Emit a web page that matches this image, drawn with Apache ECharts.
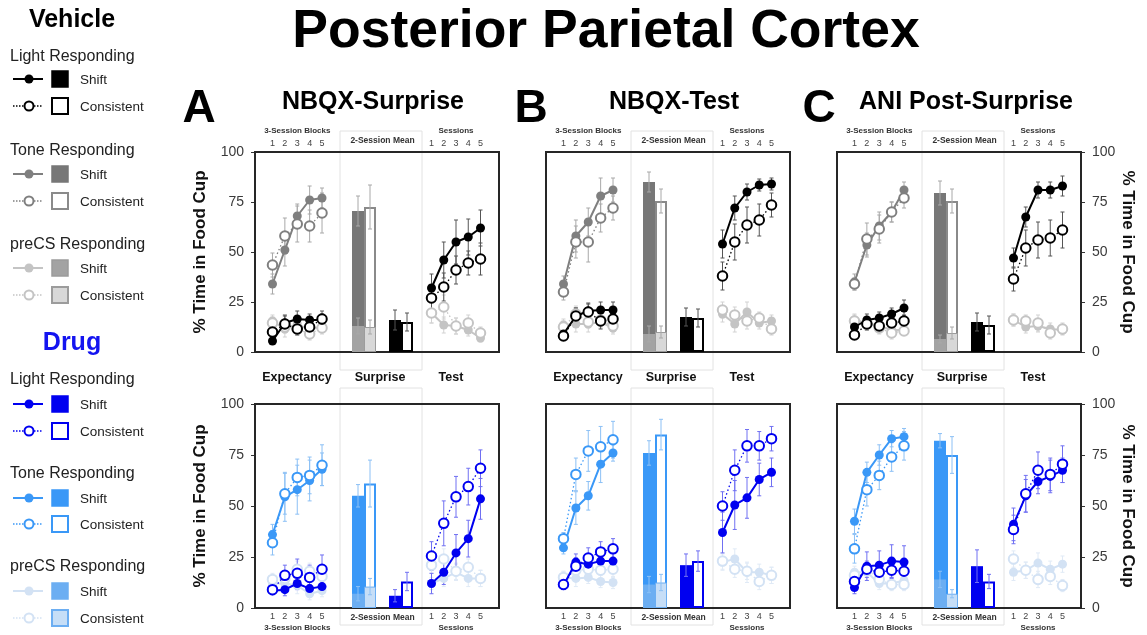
<!DOCTYPE html>
<html><head><meta charset="utf-8">
<script src="https://cdn.jsdelivr.net/npm/echarts@6/dist/echarts.min.js"></script>
<style>html,body{margin:0;padding:0;background:#fff}#c{width:1147px;height:635px}</style>
</head><body><div id="c"></div>
<script>
const FONT = '"Liberation Sans", Arial, Helvetica, sans-serif';
const blockTicks = [1, 2, 3, 4, 5];
const yTickStep = 25;
const barCats = ['Tone', 'Light'];

// ===== Vehicle, A: NBQX-Surprise =====
const vehA_exp_mean = {toneShift:[34,51,68,76,77], toneCons:[43.5,58,64,63,69.5], lightShift:[5.5,14.5,16.5,16,16], lightCons:[10,14,11.5,12.5,16.5], precsShift:[15.5,11.5,14,11,13], precsCons:[14.5,12.5,11.5,9,12]};
const vehA_exp_sem  = {toneShift:[5,8,6,7,5], toneCons:[6,9,9,8,10], lightShift:[1.5,4,4,3,3], lightCons:[2.5,4,3,3,4], precsShift:[3,4,3,3,3], precsCons:[3,3,3,3,3]};
const vehA_bar_mean = {toneShift:70.5, toneCons:72.5, precsShift:13, precsCons:12.5, lightShift:16, lightCons:15};
const vehA_bar_sem  = {toneShift:7.5, toneCons:11, precsShift:4, precsCons:3.5, lightShift:5, lightCons:4.5};
const vehA_test_mean = {lightShift:[32,46,55,57.5,62], lightCons:[27,32.5,41,44.5,46.5], precsShift:[19.5,13.5,13,11,7], precsCons:[19.5,22.5,13,14.5,9.5]};
const vehA_test_sem  = {lightShift:[7,9,11,9,9], lightCons:[6,7,7,6,8], precsShift:[5,4,4,3,2], precsCons:[5,6,4,4,3]};

// ===== Vehicle, B: NBQX-Test =====
const vehB_exp_mean = {toneShift:[34,58,65,78,81], toneCons:[30,55,55,67,72], lightShift:[9,18,20.5,21,21], lightCons:[8,18,20,15.5,16.5], precsShift:[13.5,14,14,15,12], precsCons:[12.5,19,15,16,13]};
const vehB_exp_sem  = {toneShift:[4,8,7,9,6], toneCons:[4,8,10,7,6], lightShift:[2,4,4,4,4], lightCons:[2,4,4,4,4], precsShift:[3,4,4,3,3], precsCons:[3,4,3,3,3]};
const vehB_bar_mean = {toneShift:85, toneCons:75.5, precsShift:9, precsCons:10, lightShift:17.5, lightCons:17};
const vehB_bar_sem  = {toneShift:5, toneCons:6, precsShift:4, precsCons:3, lightShift:4.5, lightCons:4.5};
const vehB_test_mean = {lightShift:[54,72,80,83.5,84], lightCons:[38,55,63.5,66,73.5], precsShift:[19,14,20,14.5,15.5], precsCons:[21,18.5,15.5,17,11.5]};
const vehB_test_sem  = {lightShift:[7,6,4,3,3], lightCons:[7,9,9,8,6], precsShift:[4,4,5,3,3], precsCons:[4,4,4,3,3]};

// ===== Vehicle, C: ANI Post-Surprise =====
const vehC_exp_mean = {toneShift:[35,53.5,63,70,81], toneCons:[34,56.5,61.5,70,77], lightShift:[12.5,16,17,19,22], lightCons:[8.5,14,13,14.5,15.5], precsShift:[16,14.5,13,11,11], precsCons:[15.5,14,12,9.5,10.5]};
const vehC_exp_sem  = {toneShift:[4,6,7,5,4], toneCons:[3,8,7,5,5], lightShift:[3,3,3,3,4], lightCons:[2,3,3,3,3], precsShift:[3,3,3,3,2], precsCons:[3,3,3,3,2]};
const vehC_bar_mean = {toneShift:79.5, toneCons:75.5, precsShift:6.5, precsCons:9.5, lightShift:15, lightCons:13.5};
const vehC_bar_sem  = {toneShift:6, toneCons:6, precsShift:2, precsCons:3, lightShift:4.5, lightCons:4.5};
const vehC_test_mean = {lightShift:[47,67.5,81,81,83], lightCons:[36.5,52,56,57,61], precsShift:[16,12.5,13,11.5,11], precsCons:[16,15.5,14.5,9.5,11.5]};
const vehC_test_sem  = {lightShift:[5,5,4,4,5], lightCons:[6,9,9,9,9], precsShift:[3,3,3,3,2], precsCons:[3,3,4,3,3]};

// ===== Drug, A =====
const drugA_exp_mean = {toneShift:[36,54.5,58,62.5,68], toneCons:[32,56,64,65,70], lightShift:[8.5,9,12,9.5,10.5], lightCons:[9,16,17,15,19], precsShift:[12,12,11,7,8.5], precsCons:[14,14.5,19,18,15.5]};
const drugA_exp_sem  = {toneShift:[5,12,12,10,8], toneCons:[6,10,9,9,10], lightShift:[2,3,3,2,3], lightCons:[2,5,7,6,7], precsShift:[3,4,4,3,3], precsCons:[3,4,4,4,4]};
const drugA_bar_mean = {toneShift:55, toneCons:61, precsShift:7, precsCons:10.5, lightShift:6, lightCons:13};
const drugA_bar_sem  = {toneShift:5.5, toneCons:11.5, precsShift:3.5, precsCons:4, lightShift:3, lightCons:4.5};
const drugA_test_mean = {lightShift:[12,17.5,27,34,53.5], lightCons:[25.5,41.5,54.5,59.5,68.5], precsShift:[12,14.5,17.5,14.5,14.5], precsCons:[21,24,18,20,14.5]};
const drugA_test_sem  = {lightShift:[5,6,9,9,10], lightCons:[7,11,10,9,9], precsShift:[3,4,4,4,4], precsCons:[4,5,4,4,4]};

// ===== Drug, B =====
const drugB_exp_mean = {toneShift:[29.5,49,55,70.5,76], toneCons:[34,65.5,77,79,82.5], lightShift:[11,22.5,21.5,23,23], lightCons:[11.5,20.5,24.5,27.5,29], precsShift:[15,14.5,15,13,12.5], precsCons:[15,18.5,19,18.5,19]};
const drugB_exp_sem  = {toneShift:[3,8,7,9,4], toneCons:[3,8,10,10,9], lightShift:[2,4,4,4,4], lightCons:[2,4,5,5,5], precsShift:[3,4,3,3,3], precsCons:[3,4,4,4,4]};
const drugB_bar_mean = {toneShift:76, toneCons:85, precsShift:11.5, precsCons:12.5, lightShift:21, lightCons:23};
const drugB_bar_sem  = {toneShift:6, toneCons:7.5, precsShift:4, precsCons:4, lightShift:5.5, lightCons:5};
const drugB_test_mean = {lightShift:[37,50.5,54,63,66.5], lightCons:[50,67.5,79.5,79.5,83], precsShift:[22.5,24,17.5,17.5,16], precsCons:[23,19,18,13,16]};
const drugB_test_sem  = {lightShift:[10,12,10,8,7], lightCons:[7,10,8,7,6], precsShift:[4,5,5,4,4], precsCons:[4,4,4,4,4]};

// ===== Drug, C =====
const drugC_exp_mean = {toneShift:[42.5,66.5,75,83,84], toneCons:[29,58,65,74,79.5], lightShift:[10,20.5,21,23,22.5], lightCons:[13,19,17.5,18.5,18], precsShift:[17.5,17.5,12,12,13.5], precsCons:[16,19,14,11.5,11.5]};
const drugC_exp_sem  = {toneShift:[6,5,5,4,4], toneCons:[7,8,7,7,7], lightShift:[3,7,7,8,8], lightCons:[3,4,4,4,4], precsShift:[3,4,3,3,3], precsCons:[3,3,3,3,3]};
const drugC_bar_mean = {toneShift:82, toneCons:75, precsShift:14, precsCons:7, lightShift:20.5, lightCons:13};
const drugC_bar_sem  = {toneShift:3.5, toneCons:9, precsShift:4, precsCons:2, lightShift:8, lightCons:3.5};
const drugC_test_mean = {lightShift:[41,55,62,64.5,67.5], lightCons:[38.5,56,67.5,65.5,70.5], precsShift:[17.5,18.5,22,19,21.5], precsCons:[24,18.5,14,15.5,11]};
const drugC_test_sem  = {lightShift:[8,8,6,8,6], lightCons:[7,9,9,8,9], precsShift:[4,4,5,4,4], precsCons:[4,4,4,4,3]};

const PAL = {
  veh: {light:'#000000', lightErr:'#555555', tone:'#7f7f7f', toneErr:'#a8a8a8', precs:'#c4c4c4', precsErr:'#d2d2d2',
        toneBar:'#777777', toneConsBorder:'#8a8a8a', precsBarShift:'#a3a3a3', precsBarCons:'#d8d8d8', precsBarBorder:'#9c9c9c'},
  drug: {light:'#0000f0', lightErr:'#7070f2', tone:'#3a98f7', toneErr:'#8cc0f5', precs:'#d3e2f4', precsErr:'#e0eaf6',
        toneBar:'#3a98f7', toneConsBorder:'#3a98f7', precsBarShift:'#6caef2', precsBarCons:'#c6def7', precsBarBorder:'#6caef2'}
};

const grids = [], xAxes = [], yAxes = [], series = [], graphics = [];
const addGrid = g => (grids.push(g), grids.length - 1);
const addX = a => (xAxes.push(a), xAxes.length - 1);
const addY = a => (yAxes.push(a), yAxes.length - 1);

function lineS(xi, yi, xs, vals, color, filled, z) {
  return {type:'line', xAxisIndex:xi, yAxisIndex:yi, data: xs.map((x, i) => [x, vals[i]]),
    symbol:'circle', symbolSize: filled ? 9 : 9.5, showSymbol:true, z,
    lineStyle:{color, width: filled ? 2 : 1.3, type: filled ? 'solid' : [1.5, 2.5]},
    itemStyle:{color: filled ? color : '#ffffff', borderColor: color, borderWidth: filled ? 0 : 2}};
}
function errS(xi, yi, xs, vals, errs, color, offset, cap) {
  return {type:'custom', xAxisIndex:xi, yAxisIndex:yi, z:1,
    data: xs.map((x, i) => [x, vals[i], errs[i]]), encode:{x:0, y:1},
    renderItem: (p, api) => {
      const x = api.value(0), v = api.value(1), e = api.value(2);
      const a = api.coord([x, v + e]), b = api.coord([x, v - e]);
      const px = a[0] + offset;
      const st = {stroke: color, lineWidth: 1};
      return {type:'group', children:[
        {type:'line', shape:{x1:px, y1:a[1], x2:px, y2:b[1]}, style:st},
        {type:'line', shape:{x1:px - cap, y1:a[1], x2:px + cap, y2:a[1]}, style:st},
        {type:'line', shape:{x1:px - cap, y1:b[1], x2:px + cap, y2:b[1]}, style:st}
      ]};
    }};
}

const W = 244;
function buildPanel(pd) {
  const {F, top, h, row, ylab, pal, exp, expE, bar, barE, test, testE} = pd;
  const P = PAL[pal];
  const axPos = row === 'top' ? 'top' : 'bottom';
  // middle "2-Session Mean" box
  graphics.push({type:'rect', z:0, shape:{x:F + 85, y: row === 'top' ? 131 : 388, width:82, height: row === 'top' ? 239 : 237},
    style:{fill:'none', stroke:'#e2e2e2', lineWidth:1}});
  // frame grid with y axis
  const gf = addGrid({left:F, top, width:W, height:h, show:true, borderColor:'#262626', borderWidth:2, backgroundColor:'transparent', z:1});
  addX({gridIndex:gf, type:'value', min:0, max:1, show:false});
  addY({gridIndex:gf, type:'value', min:0, max:100, interval:yTickStep, show: !!ylab, position: ylab === 'right' ? 'right' : 'left',
    axisLine:{show:false, onZero:false}, axisTick:{show:true, length:4, lineStyle:{color:'#333'}}, splitLine:{show:false},
    axisLabel:{fontSize:14, color:'#3a3a3a', margin:11, fontFamily:FONT},
    name:'% Time in Food Cup', nameLocation:'middle', nameGap: ylab === 'right' ? 38 : 46, nameRotate: ylab === 'right' ? -90 : 90,
    nameTextStyle:{fontSize:17, fontWeight:'bold', color:'#111', fontFamily:FONT}});
  // shared session-axis style
  const sessAxis = (gi, min, max, name) => ({gridIndex:gi, type:'value', min, max, interval:1, position:axPos,
    axisLine:{show:false, onZero:false}, axisTick:{show:false}, splitLine:{show:false},
    axisLabel:{fontSize:9, color:'#444', margin: row === 'top' ? 4 : 4.5, fontFamily:FONT, formatter: v => (v >= 1 && v <= 5) ? String(v) : ''},
    name, nameLocation:'middle', nameGap: row === 'top' ? 17 : 16,
    nameTextStyle:{fontSize:8, fontWeight:'bold', color:'#333', fontFamily:FONT}});
  // Expectancy section
  const gl = addGrid({left:F + 5.1, top, width:74.3, height:h});
  const xl = addX(sessAxis(gl, 0, 6, '3-Session Blocks'));
  const yl = addY({gridIndex:gl, type:'value', min:0, max:100, show:false});
  const order = [['precs', 'Shift', true, 2], ['precs', 'Cons', false, 2], ['tone', 'Shift', true, 3], ['tone', 'Cons', false, 3], ['light', 'Shift', true, 4], ['light', 'Cons', false, 4]];
  order.forEach(([k, s]) => {
    series.push(errS(xl, yl, blockTicks, exp[k + s], expE[k + s], P[k + 'Err'], 0, 2));
  });
  order.forEach(([k, s, filled, z]) => {
    series.push(lineS(xl, yl, blockTicks, exp[k + s], P[k], filled, z));
  });
  // Surprise section (bars)
  const gm = addGrid({left:F + 90.5, top, width:74, height:h});
  const xm = addX({gridIndex:gm, type:'category', data:barCats, position:axPos,
    axisLine:{show:false, onZero:false}, axisTick:{show:false}, axisLabel:{show:false},
    name:'2-Session Mean', nameLocation:'middle', nameGap: row === 'top' ? 7 : 5,
    nameTextStyle:{fontSize:8.5, fontWeight:'bold', color:'#333', fontFamily:FONT}});
  const xm2 = addX({gridIndex:gm, type:'category', data:barCats, show:false});
  const ym = addY({gridIndex:gm, type:'value', min:0, max:100, show:false});
  series.push({type:'bar', xAxisIndex:xm, yAxisIndex:ym, barWidth:12, barGap:'0%', z:2,
    data:[{value:bar.toneShift, itemStyle:{color:P.toneBar}}, {value:bar.lightShift, itemStyle:{color:P.light}}]});
  series.push({type:'bar', xAxisIndex:xm, yAxisIndex:ym, barWidth:12, barGap:'0%', z:2,
    data:[{value:bar.toneCons, itemStyle:{color:'#ffffff', borderColor:P.toneConsBorder, borderWidth:2}},
          {value:bar.lightCons, itemStyle:{color:'#ffffff', borderColor:P.light, borderWidth:2}}]});
  series.push({type:'bar', xAxisIndex:xm2, yAxisIndex:ym, barWidth:12, barGap:'0%', z:3,
    data:[{value:bar.precsShift, itemStyle:{color:P.precsBarShift}}, '-']});
  series.push({type:'bar', xAxisIndex:xm2, yAxisIndex:ym, barWidth:12, barGap:'0%', z:3,
    data:[{value:bar.precsCons, itemStyle:{color:P.precsBarCons, borderColor:P.precsBarBorder, borderWidth:1}}, '-']});
  const barErr = [
    [xm, 0, 'toneShift', P.toneErr, -6], [xm, 0, 'toneCons', P.toneErr, 6],
    [xm, 1, 'lightShift', P.lightErr, -6], [xm, 1, 'lightCons', P.lightErr, 6],
    [xm2, 0, 'precsShift', P.toneErr, -6], [xm2, 0, 'precsCons', P.toneErr, 6]];
  barErr.forEach(([ax, ci, k, col, off]) => {
    const s = errS(ax, ym, [ci], [bar[k]], [barE[k]], col, off, 2);
    s.z = 4;
    series.push(s);
  });
  // Test section
  const gt = addGrid({left:F + 164.25, top, width:73.5, height:h});
  const xt = addX(sessAxis(gt, 0, 6, 'Sessions'));
  const yt = addY({gridIndex:gt, type:'value', min:0, max:100, show:false});
  const tOrder = [['precs', 'Shift', true, 2], ['precs', 'Cons', false, 2], ['light', 'Shift', true, 4], ['light', 'Cons', false, 4]];
  tOrder.forEach(([k, s]) => series.push(errS(xt, yt, blockTicks, test[k + s], testE[k + s], P[k + 'Err'], 0, 2)));
  tOrder.forEach(([k, s, filled, z]) => series.push(lineS(xt, yt, blockTicks, test[k + s], P[k], filled, z)));
  // section labels between rows
  if (row === 'top') {
    [['Expectancy', F + 42], ['Surprise', F + 125], ['Test', F + 196]].forEach(([t, x]) =>
      graphics.push({type:'text', x, y:378, z:5, style:{text:t, font:'bold 12.5px ' + FONT, fill:'#111', align:'center', verticalAlign:'middle'}}));
  }
}

const panelDefs = [
  {F:255, top:152, h:200, row:'top', ylab:'left', pal:'veh', exp:vehA_exp_mean, expE:vehA_exp_sem, bar:vehA_bar_mean, barE:vehA_bar_sem, test:vehA_test_mean, testE:vehA_test_sem},
  {F:546, top:152, h:200, row:'top', ylab:null, pal:'veh', exp:vehB_exp_mean, expE:vehB_exp_sem, bar:vehB_bar_mean, barE:vehB_bar_sem, test:vehB_test_mean, testE:vehB_test_sem},
  {F:837, top:152, h:200, row:'top', ylab:'right', pal:'veh', exp:vehC_exp_mean, expE:vehC_exp_sem, bar:vehC_bar_mean, barE:vehC_bar_sem, test:vehC_test_mean, testE:vehC_test_sem},
  {F:255, top:404, h:204, row:'bottom', ylab:'left', pal:'drug', exp:drugA_exp_mean, expE:drugA_exp_sem, bar:drugA_bar_mean, barE:drugA_bar_sem, test:drugA_test_mean, testE:drugA_test_sem},
  {F:546, top:404, h:204, row:'bottom', ylab:null, pal:'drug', exp:drugB_exp_mean, expE:drugB_exp_sem, bar:drugB_bar_mean, barE:drugB_bar_sem, test:drugB_test_mean, testE:drugB_test_sem},
  {F:837, top:404, h:204, row:'bottom', ylab:'right', pal:'drug', exp:drugC_exp_mean, expE:drugC_exp_sem, bar:drugC_bar_mean, barE:drugC_bar_sem, test:drugC_test_mean, testE:drugC_test_sem}
];
panelDefs.forEach(buildPanel);

// Titles
graphics.push({type:'text', x:606, y:32, style:{text:'Posterior Parietal Cortex', font:'bold 53.5px ' + FONT, fill:'#000', align:'center', verticalAlign:'middle'}});
[['A', 199, 'NBQX-Surprise', 373], ['B', 531, 'NBQX-Test', 674], ['C', 819, 'ANI Post-Surprise', 966]].forEach(([L, lx, t, tx]) => {
  graphics.push({type:'text', x:lx, y:109, style:{text:L, font:'bold 46px ' + FONT, fill:'#000', align:'center', verticalAlign:'middle'}});
  graphics.push({type:'text', x:tx, y:102, style:{text:t, font:'bold 25px ' + FONT, fill:'#000', align:'center', verticalAlign:'middle'}});
});

// Legend (left column)
function legendBlock(title, titleColor, ty, rows, P) {
  graphics.push({type:'text', x:72, y:ty, style:{text:title, font:'bold 25px ' + FONT, fill:titleColor, align:'center', verticalAlign:'middle'}});
  rows.forEach(([label, key, yh, ys, yc]) => {
    graphics.push({type:'text', x:10, y:yh, style:{text:label, font:'16px ' + FONT, fill:'#222', align:'left', verticalAlign:'middle'}});
    const col = P[key];
    graphics.push({type:'line', shape:{x1:13, y1:ys, x2:43, y2:ys}, style:{stroke:col, lineWidth:2}});
    graphics.push({type:'circle', shape:{cx:29, cy:ys, r:4.5}, style:{fill:col, stroke:col, lineWidth:0}});
    graphics.push({type:'line', shape:{x1:13, y1:yc, x2:43, y2:yc}, style:{stroke:col, lineWidth:1.5, lineDash:[1.5, 1.5]}});
    graphics.push({type:'circle', shape:{cx:29, cy:yc, r:4.5}, style:{fill:'#fff', stroke:col, lineWidth:2}});
    let sFill, sStroke, cFill, cStroke;
    if (key === 'light') { sFill = P.light; sStroke = P.light; cFill = '#fff'; cStroke = P.light; }
    else if (key === 'tone') { sFill = P.toneBar; sStroke = P.toneBar; cFill = '#fff'; cStroke = P.toneConsBorder; }
    else { sFill = P.precsBarShift; sStroke = P.precsBarBorder; cFill = P.precsBarCons; cStroke = P.precsBarBorder; }
    graphics.push({type:'rect', shape:{x:52, y:ys - 8, width:16, height:16}, style:{fill:sFill, stroke:sStroke, lineWidth:1.5}});
    graphics.push({type:'rect', shape:{x:52, y:yc - 8, width:16, height:16}, style:{fill:cFill, stroke:cStroke, lineWidth:2}});
    graphics.push({type:'text', x:80, y:ys + 1, style:{text:'Shift', font:'13.5px ' + FONT, fill:'#222', align:'left', verticalAlign:'middle'}});
    graphics.push({type:'text', x:80, y:yc + 1, style:{text:'Consistent', font:'13.5px ' + FONT, fill:'#222', align:'left', verticalAlign:'middle'}});
  });
}
legendBlock('Vehicle', '#000', 20, [['Light Responding', 'light', 57, 79, 106], ['Tone Responding', 'tone', 151, 174, 201], ['preCS Responding', 'precs', 245, 268, 295]], PAL.veh);
legendBlock('Drug', '#1414f0', 343, [['Light Responding', 'light', 380, 404, 431], ['Tone Responding', 'tone', 474, 498, 524], ['preCS Responding', 'precs', 567, 591, 618]], PAL.drug);

const chart = echarts.init(document.getElementById('c'), null, {renderer:'canvas'});
chart.setOption({animation:false, backgroundColor:'#fff', textStyle:{fontFamily:FONT},
  grid:grids, xAxis:xAxes, yAxis:yAxes, series, graphic:{elements:graphics}});
</script></body></html>
